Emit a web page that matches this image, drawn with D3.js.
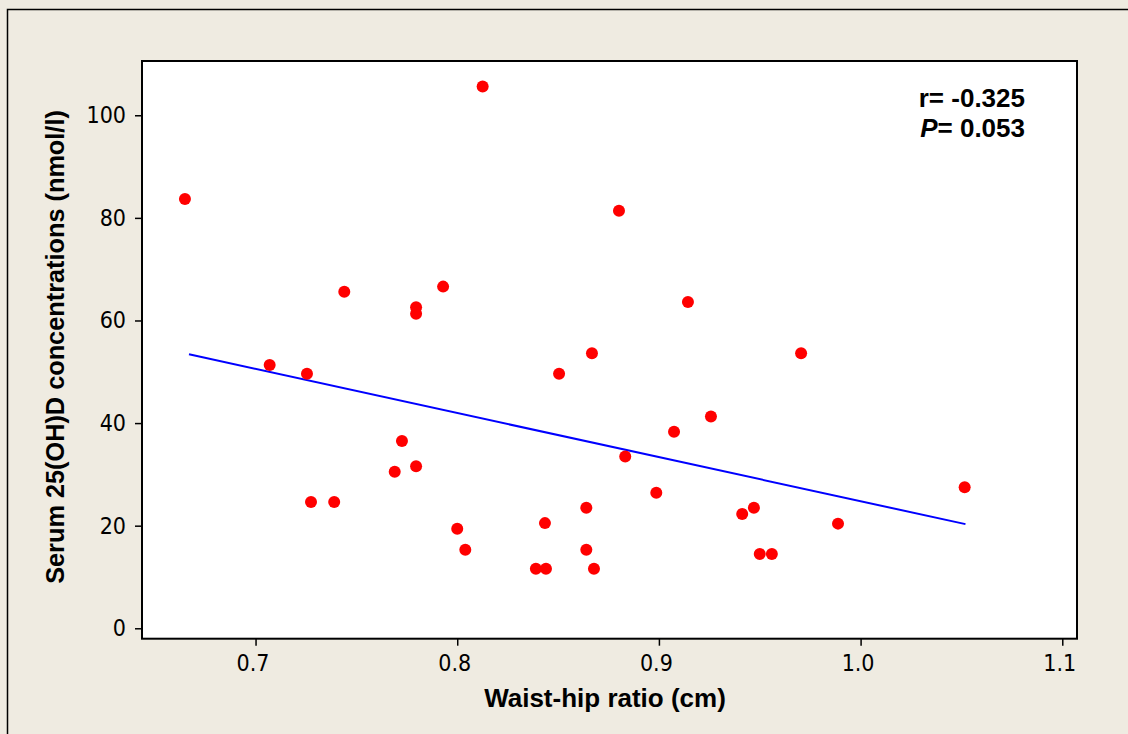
<!DOCTYPE html>
<html>
<head>
<meta charset="utf-8">
<script src="https://cdn.jsdelivr.net/npm/d3@7"></script>
<style>
  html, body { margin: 0; padding: 0; background: #EFEBE1; }
  svg { display: block; }
</style>
</head>
<body>
<svg id="chart" width="1128" height="734"></svg>
<script>
// ---- data ----
const waistHip = [0.665, 0.707, 0.7255, 0.7275, 0.739, 0.744, 0.769, 0.7726, 0.7796, 0.7796,
  0.7796, 0.793, 0.800, 0.804, 0.8126, 0.839, 0.844, 0.8435, 0.8505, 0.864,
  0.864, 0.8668, 0.8678, 0.8802, 0.8833, 0.8987, 0.9075, 0.9144, 0.9258, 0.9413,
  0.9471, 0.950, 0.956, 0.9705, 0.9888, 1.0516];
const serum25OHD = [83.7, 51.3, 49.6, 24.6, 24.6, 65.6, 30.5, 36.5, 62.6, 61.3,
  31.6, 66.6, 19.4, 15.3, 105.6, 11.6, 11.6, 20.5, 49.6, 23.5,
  15.3, 53.6, 11.6, 81.4, 33.5, 26.4, 38.3, 63.6, 41.3, 22.3,
  23.5, 14.5, 14.5, 53.6, 20.4, 27.5];
const fitX = [0.667, 1.052];
const fitY = [53.4, 20.3];
const xTicks = [0.7, 0.8, 0.9, 1.0, 1.1];
const xTickLabels = ["0.7", "0.8", "0.9", "1.0", "1.1"];
const yTicks = [0, 20, 40, 60, 80, 100];
const xTitle = "Waist-hip ratio (cm)";
const yTitle = "Serum  25(OH)D concentrations (nmol/l)";
const statR = "r= -0.325";
const statP = "0.053";

(function () {
// ---- layout ----
const pL = 142, pR = 1077, pT = 61, pB = 638.7;
const svg = d3.select("#chart");

const x = d3.scaleLinear().domain([0.6437, 1.1073]).range([pL, pR]);
const y = d3.scaleLinear().domain([-2.03, 110.58]).range([pB, pT]);

// outer frame
svg.append("rect")
  .attr("x", 7.5).attr("y", 9.5)
  .attr("width", 1140).attr("height", 740)
  .attr("fill", "#EFEBE1").attr("stroke", "#000").attr("stroke-width", 1.5);

// plot area
svg.append("rect")
  .attr("x", pL).attr("y", pT)
  .attr("width", pR - pL).attr("height", pB - pT)
  .attr("fill", "#fff");

const tickFont = "'DejaVu Sans Condensed', 'DejaVu Sans', sans-serif";

// x axis
const xAxis = d3.axisBottom(x).tickValues(xTicks)
  .tickFormat((d, i) => xTickLabels[i]).tickSize(7).tickSizeOuter(0).tickPadding(9);
const gx = svg.append("g").attr("transform", `translate(0,${pB})`).call(xAxis);
gx.select(".domain").remove();
gx.selectAll("line").attr("stroke", "#000").attr("stroke-width", 1.5);
gx.selectAll("text").attr("font-family", tickFont).attr("font-size", 23)
  .attr("fill", "#000").attr("dx", -3);

// y axis
const yAxis = d3.axisLeft(y).tickValues(yTicks).tickSize(7).tickSizeOuter(0).tickPadding(9);
const gy = svg.append("g").attr("transform", `translate(${pL},0)`).call(yAxis);
gy.select(".domain").remove();
gy.selectAll("line").attr("stroke", "#000").attr("stroke-width", 1.5);
gy.selectAll("text").attr("font-family", tickFont).attr("font-size", 23).attr("fill", "#000");

// regression line
const line = d3.line().x(d => x(d[0])).y(d => y(d[1]));
svg.append("path")
  .datum(fitX.map((v, i) => [v, fitY[i]]))
  .attr("d", line)
  .attr("fill", "none").attr("stroke", "#0000FF").attr("stroke-width", 2);

// points
svg.append("g").selectAll("circle")
  .data(waistHip.map((v, i) => [v, serum25OHD[i]]))
  .join("circle")
  .attr("cx", d => x(d[0])).attr("cy", d => y(d[1]))
  .attr("r", 6).attr("fill", "#FF0000");

// plot border
svg.append("rect")
  .attr("x", pL).attr("y", pT)
  .attr("width", pR - pL).attr("height", pB - pT)
  .attr("fill", "none").attr("stroke", "#000").attr("stroke-width", 2);

const labelFont = "'Liberation Sans', Arial, sans-serif";

// titles
svg.append("text")
  .attr("x", 605).attr("y", 707)
  .attr("text-anchor", "middle")
  .attr("font-family", labelFont).attr("font-weight", "bold").attr("font-size", 26)
  .text(xTitle);

svg.append("text")
  .attr("transform", "translate(64,347) rotate(-90)")
  .attr("text-anchor", "middle")
  .attr("font-family", labelFont).attr("font-weight", "bold").attr("font-size", 25.3)
  .text(yTitle);

// stats
svg.append("text")
  .attr("x", 1025).attr("y", 107)
  .attr("text-anchor", "end")
  .attr("font-family", labelFont).attr("font-weight", "bold").attr("font-size", 26)
  .text(statR);

const pText = svg.append("text")
  .attr("x", 1025).attr("y", 137)
  .attr("text-anchor", "end")
  .attr("font-family", labelFont).attr("font-weight", "bold").attr("font-size", 26);
pText.append("tspan").attr("font-style", "italic").text("P");
pText.append("tspan").text("= " + statP);
})();
</script>
</body>
</html>
